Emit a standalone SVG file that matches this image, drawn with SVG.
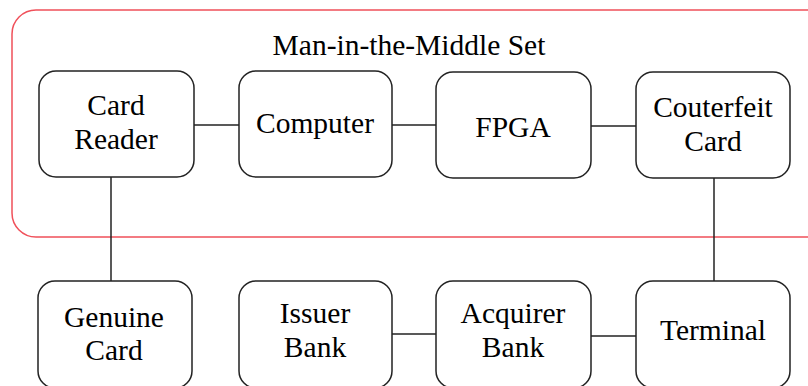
<svg xmlns="http://www.w3.org/2000/svg" width="808" height="386" viewBox="0 0 808 386">
<style>
.box{fill:#fff;stroke:#222;stroke-width:1.5}
.t{font-family:"Liberation Serif","Times New Roman",serif;font-size:29.5px;fill:#000;text-anchor:middle}
.c{stroke:#222;stroke-width:1.5;fill:none}
</style>
<rect x="0" y="0" width="808" height="386" fill="#fff"/>
<g id="mitm-set">
<rect x="12" y="10" width="820" height="227" rx="24" fill="none" stroke="#f0505a" stroke-width="1.5"/>
<text class="t" x="409" y="55">Man-in-the-Middle Set</text>
</g>
<g id="connectors">
<line class="c" x1="194" y1="125" x2="239" y2="125"/>
<line class="c" x1="392" y1="125" x2="436" y2="125"/>
<line class="c" x1="591" y1="126" x2="636" y2="126"/>
<line class="c" x1="111" y1="177" x2="111" y2="281"/>
<line class="c" x1="714" y1="178" x2="714" y2="281"/>
<line class="c" x1="392" y1="334" x2="436" y2="334"/>
<line class="c" x1="591" y1="336" x2="636" y2="336"/>
</g>
<g id="card-reader">
<rect class="box" x="39" y="71" width="155" height="106" rx="17"/>
<text class="t" x="116" y="115">Card</text>
<text class="t" x="116" y="149">Reader</text>
</g>
<g id="computer">
<rect class="box" x="239" y="71" width="153" height="106" rx="17"/>
<text class="t" x="315" y="133">Computer</text>
</g>
<g id="fpga">
<rect class="box" x="436" y="72" width="155" height="106" rx="17"/>
<text class="t" x="513" y="137">FPGA</text>
</g>
<g id="counterfeit-card">
<rect class="box" x="636" y="72" width="154" height="106" rx="17"/>
<text class="t" x="713" y="117">Couterfeit</text>
<text class="t" x="713" y="151">Card</text>
</g>
<g id="genuine-card">
<rect class="box" x="38" y="281" width="154" height="107" rx="17"/>
<text class="t" x="114" y="327">Genuine</text>
<text class="t" x="114" y="360">Card</text>
</g>
<g id="issuer-bank">
<rect class="box" x="239" y="281" width="153" height="107" rx="17"/>
<text class="t" x="315" y="323">Issuer</text>
<text class="t" x="315" y="357">Bank</text>
</g>
<g id="acquirer-bank">
<rect class="box" x="436" y="281" width="155" height="107" rx="17"/>
<text class="t" x="513" y="323">Acquirer</text>
<text class="t" x="513" y="357">Bank</text>
</g>
<g id="terminal">
<rect class="box" x="636" y="281" width="154" height="107" rx="17"/>
<text class="t" x="713" y="340">Terminal</text>
</g>
</svg>
